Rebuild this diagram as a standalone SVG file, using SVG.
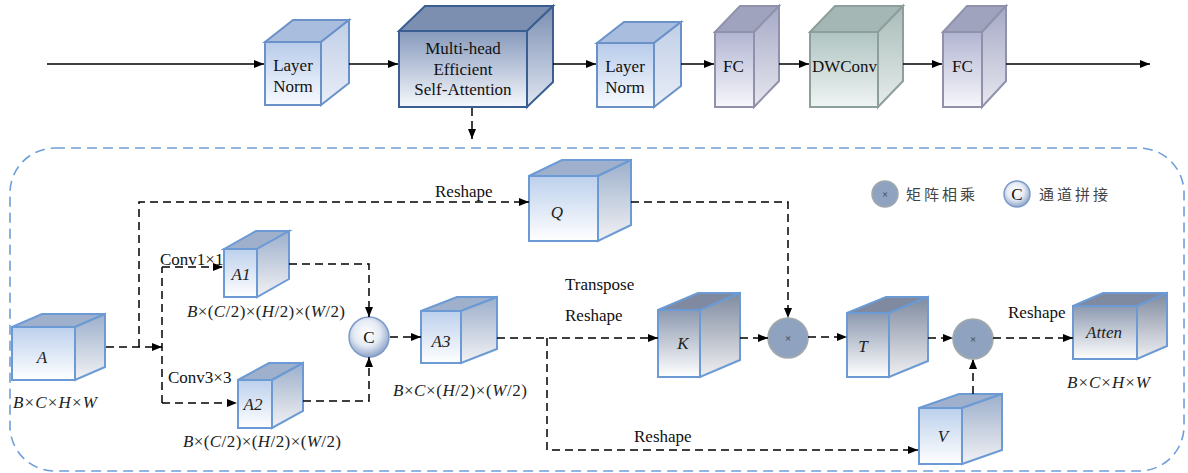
<svg xmlns="http://www.w3.org/2000/svg" width="1188" height="473" viewBox="0 0 1188 473">
<style>
  text { font-family: "Liberation Serif", "Times New Roman", serif; fill: #111; }
  .t16 { font-size: 16px; }
  .t17 { font-size: 17px; }
  .it { font-style: italic; font-size: 17px; fill: #222; }
  .dim { font-size: 17px; fill: #222; }
  .dim tspan.v { font-style: italic; }
  .cn { font-family: "Noto Sans CJK SC", "Noto Sans", sans-serif; font-size: 15px; fill: #444; letter-spacing: 3px; }
  .solid { fill: none; stroke: #000; stroke-width: 1.5; marker-end: url(#ah); }
  .dash { fill: none; stroke: #000; stroke-width: 1.5; stroke-dasharray: 8 5; }
  .dasharrow { fill: none; stroke: #000; stroke-width: 1.5; stroke-dasharray: 8 5; marker-end: url(#ah); }
  .blue rect, .blue polygon { stroke: #6b9ad4; stroke-width: 2; stroke-linejoin: miter; }
  .blue .f { fill: url(#bF); } .blue .s { fill: url(#bS); } .blue .tp { fill: #9fb0cc; }
  .dark rect, .dark polygon { stroke: #6b9ad4; stroke-width: 2; }
  .dark .f { fill: url(#dF); } .dark .s { fill: url(#dS); } .dark .tp { fill: #7f8aa0; }
  .ln rect, .ln polygon { stroke: #6b92c8; stroke-width: 2; }
  .ln .f { fill: url(#lF); } .ln .s { fill: url(#lS); } .ln .tp { fill: #a9bddf; }
  .mh rect, .mh polygon { stroke: #3b5e92; stroke-width: 2; }
  .mh .f { fill: url(#mF); } .mh .s { fill: url(#mS); } .mh .tp { fill: #7d8fb0; }
  .fc rect, .fc polygon { stroke: #8f92aa; stroke-width: 2; }
  .fc .f { fill: url(#fF); } .fc .s { fill: url(#fS); } .fc .tp { fill: #a0a3be; }
  .dw rect, .dw polygon { stroke: #8e9e9c; stroke-width: 2; }
  .dw .f { fill: url(#wF); } .dw .s { fill: url(#wS); } .dw .tp { fill: #a5b7b4; }
  .mul { fill: #8fa3c1; stroke: #a2a9ab; stroke-width: 1.5; }
  .cat { fill: url(#cG); stroke: #7d9bc8; stroke-width: 1.5; }
</style>
<defs>
  <marker id="ah" markerUnits="userSpaceOnUse" markerWidth="11" markerHeight="9" refX="10" refY="4" orient="auto">
    <path d="M0,0 L10,4 L0,8 z" fill="#000"/>
  </marker>
  <linearGradient id="bF" x1="0" y1="0" x2="0" y2="1"><stop offset="0" stop-color="#bcd0ec"/><stop offset="1" stop-color="#ffffff"/></linearGradient>
  <linearGradient id="bS" x1="0" y1="0" x2="0" y2="1"><stop offset="0" stop-color="#9cafcb"/><stop offset="1" stop-color="#f2f2f4"/></linearGradient>
  <linearGradient id="dF" x1="0" y1="0" x2="0" y2="1"><stop offset="0" stop-color="#8c99b0"/><stop offset="1" stop-color="#ffffff"/></linearGradient>
  <linearGradient id="dS" x1="0" y1="0" x2="0" y2="1"><stop offset="0" stop-color="#7f8ba0"/><stop offset="1" stop-color="#f0f0f2"/></linearGradient>
  <linearGradient id="lF" x1="0" y1="0" x2="0" y2="1"><stop offset="0" stop-color="#b7cbea"/><stop offset="1" stop-color="#f8fbff"/></linearGradient>
  <linearGradient id="lS" x1="0" y1="0" x2="0" y2="1"><stop offset="0" stop-color="#bfcee6"/><stop offset="1" stop-color="#e9eef8"/></linearGradient>
  <linearGradient id="mF" x1="0" y1="0" x2="0" y2="1"><stop offset="0" stop-color="#8699bc"/><stop offset="1" stop-color="#f6f8fc"/></linearGradient>
  <linearGradient id="mS" x1="0" y1="0" x2="0" y2="1"><stop offset="0" stop-color="#7b8eb1"/><stop offset="1" stop-color="#dfe6f2"/></linearGradient>
  <linearGradient id="fF" x1="0" y1="0" x2="0" y2="1"><stop offset="0" stop-color="#b2b5d2"/><stop offset="1" stop-color="#f6f6fb"/></linearGradient>
  <linearGradient id="fS" x1="0" y1="0" x2="0" y2="1"><stop offset="0" stop-color="#a6a9c6"/><stop offset="1" stop-color="#e7e7ef"/></linearGradient>
  <linearGradient id="wF" x1="0" y1="0" x2="0" y2="1"><stop offset="0" stop-color="#afc4c1"/><stop offset="1" stop-color="#eff4f3"/></linearGradient>
  <linearGradient id="wS" x1="0" y1="0" x2="0" y2="1"><stop offset="0" stop-color="#a8bbb8"/><stop offset="1" stop-color="#e6edec"/></linearGradient>
  <radialGradient id="cG" cx="0.45" cy="0.4" r="0.6"><stop offset="0" stop-color="#ffffff"/><stop offset="0.55" stop-color="#e4eaf4"/><stop offset="1" stop-color="#8fa5c9"/></radialGradient>
</defs>

<rect width="1188" height="473" fill="#ffffff"/>

<!-- dashed frame around the attention detail -->
<rect id="detail-frame" x="10" y="148" width="1174" height="323" rx="45" ry="45" fill="none" stroke="#6f9fd8" stroke-width="1.6" stroke-dasharray="10 6"/>

<!-- ===== encoder block (top row) ===== -->
<g id="layernorm1" class="ln">
  <rect class="f" x="265" y="42" width="56" height="63"/>
  <polygon class="tp" points="265,42 293,20 349,20 321,42"/>
  <polygon class="s" points="321,42 349,20 349,83 321,105"/>
  <text class="t17" x="293" y="71" text-anchor="middle">Layer</text>
  <text class="t17" x="293" y="92" text-anchor="middle">Norm</text>
</g>
<g id="mhesa" class="mh">
  <rect class="f" x="399" y="31" width="128" height="76"/>
  <polygon class="tp" points="399,31 425,6 553,6 527,31"/>
  <polygon class="s" points="527,31 553,6 553,82 527,107"/>
  <text class="t17" x="463" y="54" text-anchor="middle">Multi-head</text>
  <text class="t17" x="463" y="75" text-anchor="middle">Efficient</text>
  <text class="t17" x="463" y="95" text-anchor="middle">Self-Attention</text>
</g>
<g id="layernorm2" class="ln">
  <rect class="f" x="597" y="43" width="57" height="64"/>
  <polygon class="tp" points="597,43 624,22 681,22 654,43"/>
  <polygon class="s" points="654,43 681,22 681,86 654,107"/>
  <text class="t17" x="625" y="72" text-anchor="middle">Layer</text>
  <text class="t17" x="625" y="93" text-anchor="middle">Norm</text>
</g>
<g id="fc1" class="fc">
  <rect class="f" x="715" y="32" width="39" height="75"/>
  <polygon class="tp" points="715,32 740,6 779,6 754,32"/>
  <polygon class="s" points="754,32 779,6 779,81 754,107"/>
  <text class="t17" x="723" y="72">FC</text>
</g>
<g id="dwconv" class="dw">
  <rect class="f" x="810" y="32" width="68" height="75"/>
  <polygon class="tp" points="810,32 835,6 903,6 878,32"/>
  <polygon class="s" points="878,32 903,6 903,81 878,107"/>
  <text class="t17" x="812" y="72" textLength="65" lengthAdjust="spacingAndGlyphs">DWConv</text>
</g>
<g id="fc2" class="fc">
  <rect class="f" x="943" y="32" width="39" height="75"/>
  <polygon class="tp" points="943,32 967,6 1006,6 982,32"/>
  <polygon class="s" points="982,32 1006,6 1006,81 982,107"/>
  <text class="t17" x="952" y="72">FC</text>
</g>

<!-- ===== attention detail ===== -->
<g id="node-A" class="blue">
  <rect class="f" x="12" y="327" width="63" height="53"/>
  <polygon class="tp" points="12,327 42,314 105,314 75,327"/>
  <polygon class="s" points="75,327 105,314 105,367 75,380"/>
  <text class="it" x="42" y="363" text-anchor="middle">A</text>
  <text class="dim" x="13" y="408" textLength="84" lengthAdjust="spacing"><tspan class="v">B</tspan>×<tspan class="v">C</tspan>×<tspan class="v">H</tspan>×<tspan class="v">W</tspan></text>
</g>
<g id="node-A1" class="blue">
  <rect class="f" x="224" y="249" width="33" height="48"/>
  <polygon class="tp" points="224,249 256,231 289,231 257,249"/>
  <polygon class="s" points="257,249 289,231 289,279 257,297"/>
  <text class="it" x="241" y="280" text-anchor="middle">A1</text>
  <text class="dim" x="187" y="317" textLength="158" lengthAdjust="spacing"><tspan class="v">B</tspan>×(<tspan class="v">C</tspan>/2)×(<tspan class="v">H</tspan>/2)×(<tspan class="v">W</tspan>/2)</text>
</g>
<g id="node-A2" class="blue">
  <rect class="f" x="238" y="380" width="34" height="48"/>
  <polygon class="tp" points="238,380 269,363 303,363 272,380"/>
  <polygon class="s" points="272,380 303,363 303,411 272,428"/>
  <text class="it" x="253" y="410" text-anchor="middle">A2</text>
  <text class="dim" x="183" y="447" textLength="158" lengthAdjust="spacing"><tspan class="v">B</tspan>×(<tspan class="v">C</tspan>/2)×(<tspan class="v">H</tspan>/2)×(<tspan class="v">W</tspan>/2)</text>
</g>
<g id="concat">
  <circle class="cat" cx="369" cy="337" r="20"/>
  <text class="t17" x="369" y="343" text-anchor="middle">C</text>
</g>
<g id="node-A3" class="blue">
  <rect class="f" x="421" y="311" width="40" height="52"/>
  <polygon class="tp" points="421,311 457,297 497,297 461,311"/>
  <polygon class="s" points="461,311 497,297 497,349 461,363"/>
  <text class="it" x="441" y="347" text-anchor="middle">A3</text>
  <text class="dim" x="393" y="396" textLength="134" lengthAdjust="spacing"><tspan class="v">B</tspan>×<tspan class="v">C</tspan>×(<tspan class="v">H</tspan>/2)×(<tspan class="v">W</tspan>/2)</text>
</g>
<g id="node-Q" class="blue">
  <rect class="f" x="529" y="176" width="69" height="65"/>
  <polygon class="tp" points="529,176 562,160 631,160 598,176"/>
  <polygon class="s" points="598,176 631,160 631,225 598,241"/>
  <text class="it" x="557" y="218" text-anchor="middle">Q</text>
</g>
<g id="node-K" class="dark">
  <rect class="f" x="658" y="310" width="42" height="67"/>
  <polygon class="tp" points="658,310 698,293 740,293 700,310"/>
  <polygon class="s" points="700,310 740,293 740,360 700,377"/>
  <text class="it" x="683" y="349" text-anchor="middle">K</text>
</g>
<g id="matmul1">
  <circle class="mul" cx="788" cy="338" r="20"/>
  <text x="788" y="342" font-size="11" text-anchor="middle" style="fill:#333">×</text>
</g>
<g id="node-T" class="dark">
  <rect class="f" x="847" y="313" width="42" height="64"/>
  <polygon class="tp" points="847,313 886,297 928,297 889,313"/>
  <polygon class="s" points="889,313 928,297 928,361 889,377"/>
  <text class="it" x="863" y="352" text-anchor="middle">T</text>
</g>
<g id="matmul2">
  <circle class="mul" cx="973" cy="339" r="20"/>
  <text x="973" y="343" font-size="11" text-anchor="middle" style="fill:#333">×</text>
</g>
<g id="node-V" class="blue">
  <rect class="f" x="919" y="408" width="43" height="56"/>
  <polygon class="tp" points="919,408 959,394 1002,394 962,408"/>
  <polygon class="s" points="962,408 1002,394 1002,450 962,464"/>
  <text class="it" x="943" y="442" text-anchor="middle">V</text>
</g>
<g id="node-Atten" class="dark">
  <rect class="f" x="1073" y="306" width="64" height="53"/>
  <polygon class="tp" points="1073,306 1103,293 1167,293 1137,306"/>
  <polygon class="s" points="1137,306 1167,293 1167,346 1137,359"/>
  <text class="it" x="1104" y="338" text-anchor="middle">Atten</text>
  <text class="dim" x="1067" y="388" textLength="83" lengthAdjust="spacing"><tspan class="v">B</tspan>×<tspan class="v">C</tspan>×<tspan class="v">H</tspan>×<tspan class="v">W</tspan></text>
</g>

<!-- legend -->
<g id="legend">
  <circle class="mul" cx="885" cy="194" r="13"/>
  <text x="885" y="198" font-size="10" text-anchor="middle" style="fill:#333">×</text>
  <text class="cn" x="906" y="200">矩阵相乘</text>
  <circle class="cat" cx="1017" cy="194" r="13"/>
  <text class="t17" x="1017" y="200" text-anchor="middle">C</text>
  <text class="cn" x="1039" y="200">通道拼接</text>
</g>

<!-- connectors -->
<g id="connectors">
  <!-- top row -->
  <path class="solid" d="M47,64 H264"/>
  <path class="solid" d="M349,64 H398"/>
  <path class="solid" d="M553,64 H596"/>
  <path class="solid" d="M681,64 H714"/>
  <path class="solid" d="M779,64 H809"/>
  <path class="solid" d="M903,64 H942"/>
  <path class="solid" d="M1006,64 H1150"/>
  <path class="dasharrow" d="M472,108 V139"/>

  <!-- detail -->
  <path class="dasharrow" d="M106,347 H162"/>
  <path class="dasharrow" d="M139,347 V202 H529"/>
  <path class="dash" d="M162,403 V267"/>
  <path class="dasharrow" d="M162,267 H223"/>
  <path class="dasharrow" d="M162,403 H237"/>
  <path class="dasharrow" d="M289,264 H369 V317"/>
  <path class="dasharrow" d="M303,401 H369 V357"/>
  <path class="dasharrow" d="M390,337 H421"/>
  <path class="dasharrow" d="M497,338 H658"/>
  <path class="dasharrow" d="M547,338 V450 H918"/>
  <path class="dasharrow" d="M631,202 H788 V318"/>
  <path class="dasharrow" d="M740,338 H768"/>
  <path class="dasharrow" d="M808,337 H847"/>
  <path class="dasharrow" d="M928,338 H953"/>
  <path class="dasharrow" d="M993,338 H1073"/>
  <path class="dasharrow" d="M973,394 V359"/>

  <!-- connector labels -->
  <text class="t17" x="435" y="197">Reshape</text>
  <text class="t17" x="160" y="265">Conv1×1</text>
  <text class="t17" x="168" y="383">Conv3×3</text>
  <text class="t17" x="565" y="290">Transpose</text>
  <text class="t17" x="565" y="321">Reshape</text>
  <text class="t17" x="634" y="442">Reshape</text>
  <text class="t17" x="1008" y="318">Reshape</text>
</g>
</svg>
